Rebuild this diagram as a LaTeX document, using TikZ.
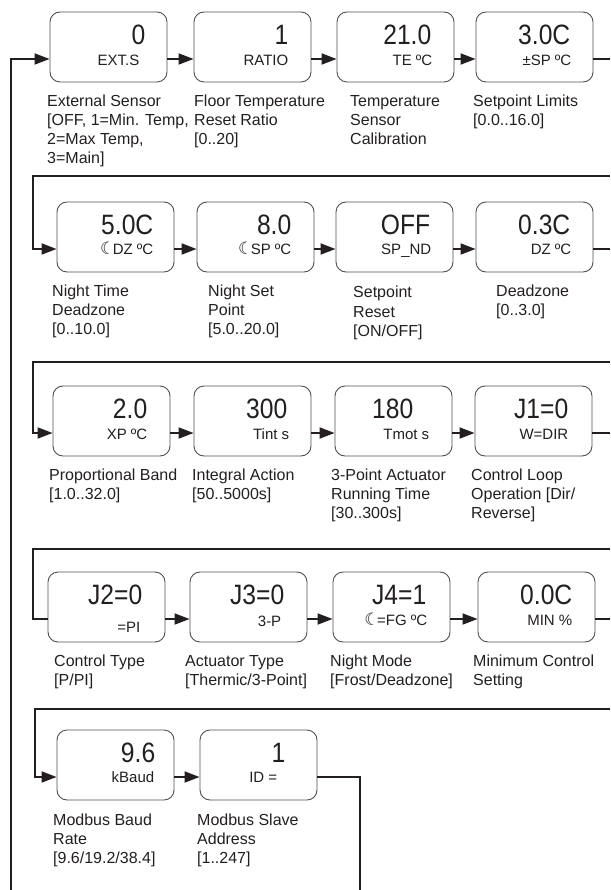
\documentclass[tikz,border=0pt]{standalone}
\usepackage{fontspec}
\setmainfont{Liberation Sans}
\newfontfamily\valfont[FakeStretch=0.88]{Liberation Sans}
\newfontfamily\symfont{DejaVu Sans}
\usetikzlibrary{arrows.meta,calc}
\definecolor{ink}{HTML}{231F20}
\definecolor{boxc}{HTML}{505050}
\newcommand\moon{{\symfont\fontsize{17}{17}\selectfont\kern-1.5pt ☾\kern-2.5pt}}
\newcommand\pbox[8]{%
  \node[pb] (#1) at (#2,#3) {};
  \node[val] (#1v) at ($(#1.north east)+(-#5,33)$) {#4};
  \node[lab] (#1l) at ($(#1.north east)+(-#7,#8)$) {#6};
}
\newcommand\dsc[4]{\node[desc] (#1) at (#2,#3) {\begin{tabular}[t]{@{}l@{}}#4\end{tabular}};}
\begin{document}
\begin{tikzpicture}[x=1pt, y=-1pt,
  pb/.style={draw=boxc, line width=0.9pt, fill=white, rounded corners=10pt, minimum width=117pt, minimum height=70pt, inner sep=0pt},
  val/.style={anchor=base east, inner sep=0pt, text=ink, font=\valfont\fontsize{28}{28}\selectfont},
  lab/.style={anchor=base east, inner sep=0pt, text=ink, font=\fontsize{15}{18}\selectfont},
  desc/.style={anchor=base west, inner sep=0pt, text=ink, font=\fontsize{16}{19}\selectfont},
  conn/.style={draw=ink, line width=1.8pt},
  arr/.style={conn, -{Triangle[length=15pt,width=11pt]}}]
\useasboundingbox (0,0) rectangle (610,890);
% row 1
\pbox{a1}{108.5}{47}{0}{22}{EXT.S}{28}{54}
\pbox{a2}{252.5}{47}{1}{23}{RATIO}{23}{54}
\pbox{a3}{395.5}{47}{21.0}{23}{TE ºC}{22}{54}
\pbox{a4}{534.5}{47}{3.0C}{23}{±SP ºC}{22}{54}
% row 2
\pbox{b1}{115.5}{237}{5.0C}{21}{\moon DZ ºC}{21}{53}
\pbox{b2}{255.5}{237}{8.0}{23}{\moon SP ºC}{23}{53}
\pbox{b3}{394.5}{237}{OFF}{23}{SP\_ND}{22}{53}
\pbox{b4}{534.5}{237}{0.3C}{23}{DZ ºC}{22}{53}
% row 3
\pbox{c1}{111.5}{421}{2.0}{23}{XP ºC}{23}{54}
\pbox{c2}{252.5}{421}{300}{24}{Tint s}{22}{54}
\pbox{c3}{393.5}{421}{180}{39}{Tmot s}{23}{54}
\pbox{c4}{533.5}{421}{J1=0}{24}{W=DIR}{24}{54}
% row 4
\pbox{d1}{106.5}{607}{J2=0}{23}{=PI}{25}{61}
\pbox{d2}{248.5}{607}{J3=0}{23}{3-P}{26}{55}
\pbox{d3}{391.5}{607}{J4=1}{24}{\moon=FG ºC}{23}{54}
\pbox{d4}{536.5}{607}{0.0C}{23}{MIN \%}{23}{54}
% row 5
\pbox{e1}{115.5}{765}{9.6}{19}{kBaud}{20}{53}
\pbox{e2}{258.5}{765}{1}{32}{ID =}{40}{53}
% descriptions
\dsc{a1d}{47}{107}{External Sensor\\{[}OFF, 1=Min. Temp,\\2=Max Temp,\\3=Main]}
\dsc{a2d}{194}{107}{Floor Temperature\\Reset Ratio\\{[}0..20]}
\dsc{a3d}{350}{107}{Temperature\\Sensor\\Calibration}
\dsc{a4d}{473}{107}{Setpoint Limits\\{[}0.0..16.0]}
\dsc{b1d}{52}{296}{Night Time\\Deadzone\\{[}0..10.0]}
\dsc{b2d}{208}{296}{Night Set\\Point\\{[}5.0..20.0]}
\dsc{b3d}{353}{298}{Setpoint\\Reset\\{[}ON/OFF]}
\dsc{b4d}{496}{296}{Deadzone\\{[}0..3.0]}
\dsc{c1d}{49}{480}{Proportional Band\\{[}1.0..32.0]}
\dsc{c2d}{192}{480}{Integral Action\\{[}50..5000s]}
\dsc{c3d}{331}{480}{3-Point Actuator\\Running Time\\{[}30..300s]}
\dsc{c4d}{471}{480}{Control Loop\\Operation [Dir/\\Reverse]}
\dsc{d1d}{54}{666}{Control Type\\{[}P/PI]}
\dsc{d2d}{185}{666}{Actuator Type\\{[}Thermic/3-Point]}
\dsc{d3d}{330}{666}{Night Mode\\{[}Frost/Deadzone]}
\dsc{d4d}{473}{666}{Minimum Control\\Setting}
\dsc{e1d}{53}{825}{Modbus Baud\\Rate\\{[}9.6/19.2/38.4]}
\dsc{e2d}{197}{825}{Modbus Slave\\Address\\{[}1..247]}
% connectors
\coordinate (re) at (610,0);
\coordinate (lb) at (11,890);
\draw[arr] (lb) |- ([yshift=-12pt]a1.west);
\foreach \p/\q in {a1/a2,a2/a3,a3/a4,b1/b2,b2/b3,b3/b4,c1/c2,c2/c3,c3/c4,d1/d2,d2/d3,d3/d4,e1/e2}
  \draw[arr] ([yshift=-12pt]\p.east) -- ([yshift=-12pt]\q.west);
\foreach \p in {a4,b4,c4,d4}{
  \path ([yshift=-12pt]\p.east) coordinate (\p o);
  \draw[conn] (\p o) -- (\p o -| re);
}
\coordinate (w2r) at (610,176); \coordinate (w2l) at (33,176);
\draw[arr] (w2r) -- (w2l) |- ([yshift=-12pt]b1.west);
\coordinate (w3r) at (610,362); \coordinate (w3l) at (33,362);
\draw[arr] (w3r) -- (w3l) |- ([yshift=-12pt]c1.west);
\coordinate (w4r) at (610,549); \coordinate (w4l) at (33,549);
\draw[conn] (w4r) -- (w4l) |- ([yshift=-12pt]d1.west);
\coordinate (w5r) at (610,709); \coordinate (w5l) at (35,709);
\draw[arr] (w5r) -- (w5l) |- ([yshift=-12pt]e1.west);
\coordinate (eb) at (360,890);
\draw[conn] ([yshift=-12pt]e2.east) -| (eb);
\end{tikzpicture}
\end{document}
